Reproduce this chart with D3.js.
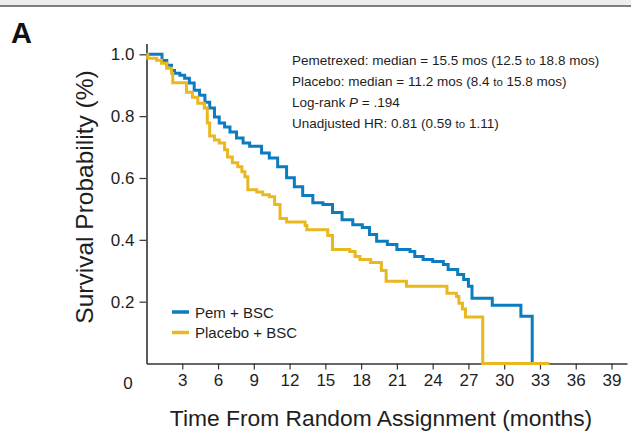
<!DOCTYPE html>
<html>
<head>
<meta charset="utf-8">
<script src="https://cdn.jsdelivr.net/npm/d3@7"></script>
<style>
  body { margin: 0; background: #fff; }
  svg { display: block; font-family: "Liberation Sans", Arial, sans-serif; }
</style>
</head>
<body>
<div class="km"></div>
<script>
const width = 631;
const height = 435;

// Kaplan-Meier steps (months, survival probability)
const pemTime = [0, 1.3, 1.7, 2.1, 2.35, 2.8, 3.2, 3.6, 4.0, 4.45, 4.9, 5.3, 5.7, 6.1, 6.55, 7.0, 7.55, 8.1, 8.65, 9.65,
    10.3, 11.0, 11.75, 12.4, 13.1, 13.95, 14.8, 15.6, 16.4, 17.3, 18.1, 18.7, 19.3, 20.2, 21.0, 22.1, 22.5, 23.2, 24.0, 24.9,
    25.3, 26.1, 26.6, 27.0, 27.3, 29.0, 31.4, 32.35];
const pemSurv = [1.0, 0.98, 0.965, 0.948, 0.939, 0.932, 0.923, 0.907, 0.884, 0.868, 0.845, 0.826, 0.797, 0.778, 0.765, 0.749, 0.729, 0.713, 0.703, 0.681,
    0.665, 0.636, 0.601, 0.572, 0.543, 0.52, 0.514, 0.488, 0.465, 0.449, 0.44, 0.417, 0.395, 0.385, 0.369, 0.362, 0.346, 0.336, 0.33, 0.32,
    0.304, 0.288, 0.272, 0.25, 0.211, 0.188, 0.153, 0];

const placeboTime = [0, 0.1, 0.85, 1.25, 1.7, 2.1, 2.2, 3.35, 3.85, 4.3, 4.85, 5.1, 5.3, 5.7, 6.1, 6.55, 6.8, 7.2, 7.65, 8.0,
    8.25, 8.5, 9.25, 9.75, 10.3, 10.75, 11.2, 11.75, 13.3, 13.45, 15.2, 15.6, 17.05, 17.5, 17.9, 18.8, 19.7, 20.1, 21.8, 25.2,
    26.0, 26.2, 26.5, 26.75, 28.2, 33.8];
const placeboSurv = [1.0, 0.987, 0.981, 0.971, 0.955, 0.939, 0.908, 0.877, 0.861, 0.842, 0.826, 0.778, 0.736, 0.723, 0.713, 0.691, 0.668, 0.649, 0.636, 0.62,
    0.604, 0.562, 0.555, 0.546, 0.539, 0.514, 0.469, 0.458, 0.446, 0.433, 0.414, 0.369, 0.362, 0.346, 0.336, 0.327, 0.301, 0.266, 0.25, 0.227,
    0.217, 0.195, 0.176, 0.15, 0, 0];

const xTicks = [3, 6, 9, 12, 15, 18, 21, 24, 27, 30, 33, 36, 39];
const yTicks = [0.2, 0.4, 0.6, 0.8, 1.0];
const seriesNames = ["Pem + BSC", "Placebo + BSC"];
const seriesColors = ["#0b7cc2", "#e9b820"];
const statLines = [
    ["Pemetrexed: median = 15.5 mos (12.5 ", "to", " 18.8 mos)"],
    ["Placebo: median = 11.2 mos (8.4 ", "to", " 15.8 mos)"],
    ["Log-rank ", "P", " = .194"],
    ["Unadjusted HR: 0.81 (0.59 ", "to", " 1.11)"]
];

const svg = d3.select(".km").append("svg")
    .attr("width", width)
    .attr("height", height);

// top band of the page
svg.append("rect").attr("x", 0).attr("y", 0).attr("width", width).attr("height", 5.5).attr("fill", "#eeeeee");
svg.append("line").attr("x1", 0).attr("x2", width).attr("y1", 6).attr("y2", 6)
    .attr("stroke", "#555").attr("stroke-width", 1.5);

svg.append("text").text("A")
    .attr("x", 11).attr("y", 43)
    .attr("font-size", 29).attr("font-weight", "bold").attr("fill", "#111");

let xScale = d3.scaleLinear().domain([0, 40.3]).range([146.5, 627]);
let yScale = d3.scaleLinear().domain([0, 1.035]).range([363.5, 43.5]);

// x axis
let xAxis = d3.axisBottom(xScale).tickValues(xTicks).tickSize(6).tickSizeOuter(0).tickPadding(4);
let gx = svg.append("g").attr("transform", "translate(0," + yScale(0) + ")").call(xAxis);
gx.select(".domain").attr("stroke", "#333").attr("stroke-width", 1.6);
gx.selectAll(".tick line").attr("stroke", "#333").attr("stroke-width", 1.2);
gx.selectAll(".tick text").attr("font-size", 17).attr("fill", "#1e1e1e").attr("font-family", null);
svg.append("text").text("0")
    .attr("x", 128).attr("y", 389)
    .attr("text-anchor", "middle").attr("font-size", 17).attr("fill", "#1e1e1e");

// y axis
let yAxis = d3.axisLeft(yScale).tickValues(yTicks).tickFormat(d3.format(".1f")).tickSize(7).tickSizeOuter(0).tickPadding(5);
let gy = svg.append("g").attr("transform", "translate(" + xScale(0) + ",0)").call(yAxis);
gy.select(".domain").attr("stroke", "#333").attr("stroke-width", 1.6);
gy.selectAll(".tick line").attr("stroke", "#333").attr("stroke-width", 1.2);
gy.selectAll(".tick text").attr("font-size", 17).attr("fill", "#1e1e1e").attr("font-family", null);

// curves
const line = d3.line()
    .x((d) => xScale(d[0]))
    .y((d) => yScale(d[1]))
    .curve(d3.curveStepAfter);
const series = [
    d3.zip(pemTime, pemSurv),
    d3.zip(placeboTime, placeboSurv)
];
svg.append("g")
    .selectAll("path")
    .data(series)
    .enter()
    .append("path")
    .attr("d", line)
    .attr("fill", "none")
    .attr("stroke", (d, i) => seriesColors[i])
    .attr("stroke-width", 3)
    .attr("stroke-linejoin", "miter");

// stats text
let stats = svg.append("g").attr("font-size", 13.5).attr("fill", "#1e1e1e");
statLines.forEach((parts, i) => {
    let t = stats.append("text").attr("x", 292).attr("y", 65 + i * 21);
    t.append("tspan").text(parts[0]);
    let mid = t.append("tspan").text(parts[1]);
    if (parts[1] === "P") mid.attr("font-style", "italic");
    else mid.attr("font-size", 11.5);
    t.append("tspan").text(parts[2]);
});

// legend
let legend = svg.append("g");
seriesNames.forEach((name, i) => {
    legend.append("line")
        .attr("x1", 172).attr("x2", 189)
        .attr("y1", 312 + i * 20.5).attr("y2", 312 + i * 20.5)
        .attr("stroke", seriesColors[i]).attr("stroke-width", 3.5);
    legend.append("text").text(name)
        .attr("x", 195).attr("y", 317.5 + i * 20.5)
        .attr("font-size", 15).attr("fill", "#1e1e1e");
});

// axis titles
svg.append("text")
    .text("Time From Random Assignment (months)")
    .attr("text-anchor", "middle")
    .attr("x", 381).attr("y", 426)
    .attr("font-size", 22.8).attr("fill", "#1e1e1e");
svg.append("text")
    .text("Survival Probability (%)")
    .attr("text-anchor", "middle")
    .attr("transform", "translate(93,197) rotate(-90)")
    .attr("font-size", 24.5).attr("fill", "#1e1e1e");
</script>
</body>
</html>
